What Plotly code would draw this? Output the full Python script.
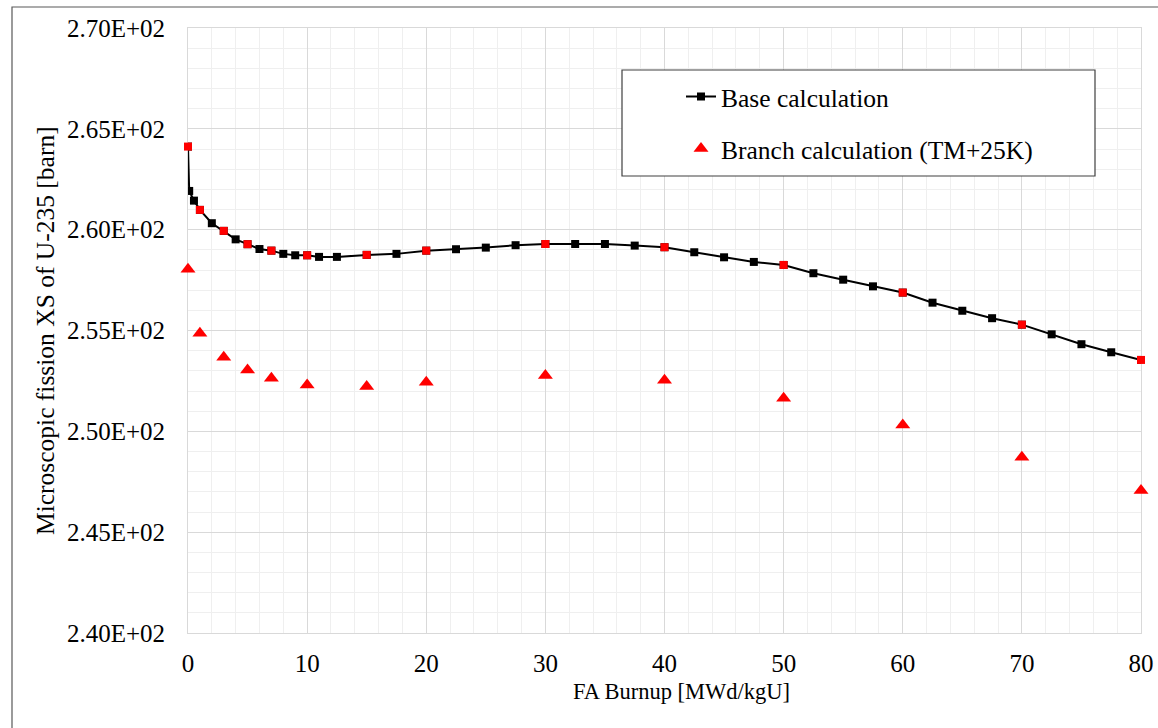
import plotly.graph_objects as go

# Base depletion calculation: burnup steps [MWd/kgU] and U-235 micro fission XS [barn]
base_burnup = [0, 0.1, 0.5, 1, 2, 3, 4, 5, 6, 7, 8, 9, 10, 11, 12.5, 15, 17.5, 20,
               22.5, 25, 27.5, 30, 32.5, 35, 37.5, 40, 42.5, 45, 47.5, 50, 52.5, 55,
               57.5, 60, 62.5, 65, 67.5, 70, 72.5, 75, 77.5, 80]
base_xs = [264.12, 261.92, 261.44, 260.98, 260.32, 259.94, 259.52, 259.28, 259.04,
           258.96, 258.80, 258.73, 258.73, 258.65, 258.65, 258.75, 258.80, 258.96,
           259.03, 259.11, 259.23, 259.29, 259.29, 259.29, 259.21, 259.13, 258.88,
           258.63, 258.40, 258.25, 257.84, 257.52, 257.19, 256.88, 256.38, 255.98,
           255.61, 255.29, 254.81, 254.32, 253.92, 253.54]

# Branch calculation (moderator temperature +25 K)
branch_burnup = [0, 1, 3, 5, 7, 10, 15, 20, 30, 40, 50, 60, 70, 80]
branch_xs = [258.04, 254.86, 253.67, 253.04, 252.63, 252.30, 252.22, 252.43,
             252.77, 252.53, 251.64, 250.32, 248.72, 247.06]

# Axis ticks
x_ticks = [0, 10, 20, 30, 40, 50, 60, 70, 80]
y_ticks = [240, 245, 250, 255, 260, 265, 270]
y_tick_labels = ["2.40E+02", "2.45E+02", "2.50E+02", "2.55E+02",
                 "2.60E+02", "2.65E+02", "2.70E+02"]

x_title = "FA Burnup [MWd/kgU]"
y_title = "Microscopic fission XS of U-235 [barn]"

# Base points where the branch case was run (highlighted in red)
branch_points_x = [b for b in base_burnup if b in branch_burnup]
branch_points_y = [base_xs[base_burnup.index(b)] for b in branch_points_x]

FONT = "Liberation Serif, Times New Roman, serif"
MAJOR_GRID = "#d9d9d9"
MINOR_GRID = "#efefef"

fig = go.Figure()

fig.add_trace(go.Scatter(
    x=base_burnup, y=base_xs, mode="lines+markers", name="Base calculation",
    line=dict(color="black", width=2),
    marker=dict(symbol="square", size=8, color="black"),
    legend="legend",
))
fig.add_trace(go.Scatter(
    x=branch_points_x, y=branch_points_y, mode="markers", showlegend=False,
    marker=dict(symbol="square", size=8, color="#ff0000"),
    cliponaxis=False,
))
fig.add_trace(go.Scatter(
    x=branch_burnup, y=branch_xs, mode="markers",
    name="Branch calculation (TM+25K)",
    marker=dict(symbol="triangle-up", size=13, color="#ff0000"),
    legend="legend2", cliponaxis=False,
))

# Plot area in pixels: x 188..1141, y 28..633
L, R, T, B = 188, 17, 28, 95
W, H = 1158, 728
pw, ph = W - L - R, H - T - B


def px_x(p):
    return (p - L) / pw


def px_y(p):
    return (H - B - p) / ph


legend_common = dict(
    bgcolor="rgba(0,0,0,0)", borderwidth=0,
    font=dict(family=FONT, size=25.5, color="black"),
    xanchor="left", yanchor="middle",
)

fig.update_layout(
    width=W, height=H,
    margin=dict(l=L, r=R, t=T, b=B, autoexpand=False),
    paper_bgcolor="white", plot_bgcolor="white",
    font=dict(family=FONT, color="black"),
    legend=dict(x=px_x(681), y=px_y(97), **legend_common),
    legend2=dict(x=px_x(681), y=px_y(149), **legend_common),
    xaxis=dict(
        range=[0, 80], tickvals=x_ticks,
        tickfont=dict(family=FONT, size=25, color="black"),
        showgrid=True, gridcolor=MAJOR_GRID, gridwidth=1,
        minor=dict(tickmode="linear", tick0=0, dtick=2, showgrid=True,
                   gridcolor=MINOR_GRID, gridwidth=1),
        showline=True, linecolor=MAJOR_GRID, linewidth=1, mirror=True,
        zeroline=False, ticks="", ticklabelstandoff=8, layer="below traces",
    ),
    yaxis=dict(
        range=[240, 270], tickvals=y_ticks, ticktext=y_tick_labels,
        tickfont=dict(family=FONT, size=25, color="black"),
        showgrid=True, gridcolor=MAJOR_GRID, gridwidth=1,
        minor=dict(tickmode="linear", tick0=240, dtick=1, showgrid=True,
                   gridcolor=MINOR_GRID, gridwidth=1),
        showline=True, linecolor=MAJOR_GRID, linewidth=1, mirror=True,
        zeroline=False, ticks="", ticklabelstandoff=17, layer="below traces",
    ),
    annotations=[
        dict(text=x_title, xref="paper", yref="paper",
             x=px_x(681), y=px_y(691), xanchor="center", yanchor="middle",
             showarrow=False, font=dict(family=FONT, size=22.5, color="black")),
        dict(text=y_title, xref="paper", yref="paper", textangle=-90,
             x=px_x(45), y=px_y(331), xanchor="center", yanchor="middle",
             showarrow=False, font=dict(family=FONT, size=25.5, color="black")),
    ],
    shapes=[
        # legend frame
        dict(type="rect", xref="paper", yref="paper",
             x0=px_x(622), x1=px_x(1095), y0=px_y(176), y1=px_y(70),
             line=dict(color="#404040", width=1.2), fillcolor="white",
             layer="above"),
        # outer chart border
        dict(type="rect", xref="paper", yref="paper",
             x0=px_x(12), x1=px_x(1175), y0=px_y(745), y1=px_y(7),
             line=dict(color="#595959", width=1.2), fillcolor="rgba(0,0,0,0)"),
    ],
)

fig.write_html("out.html")
